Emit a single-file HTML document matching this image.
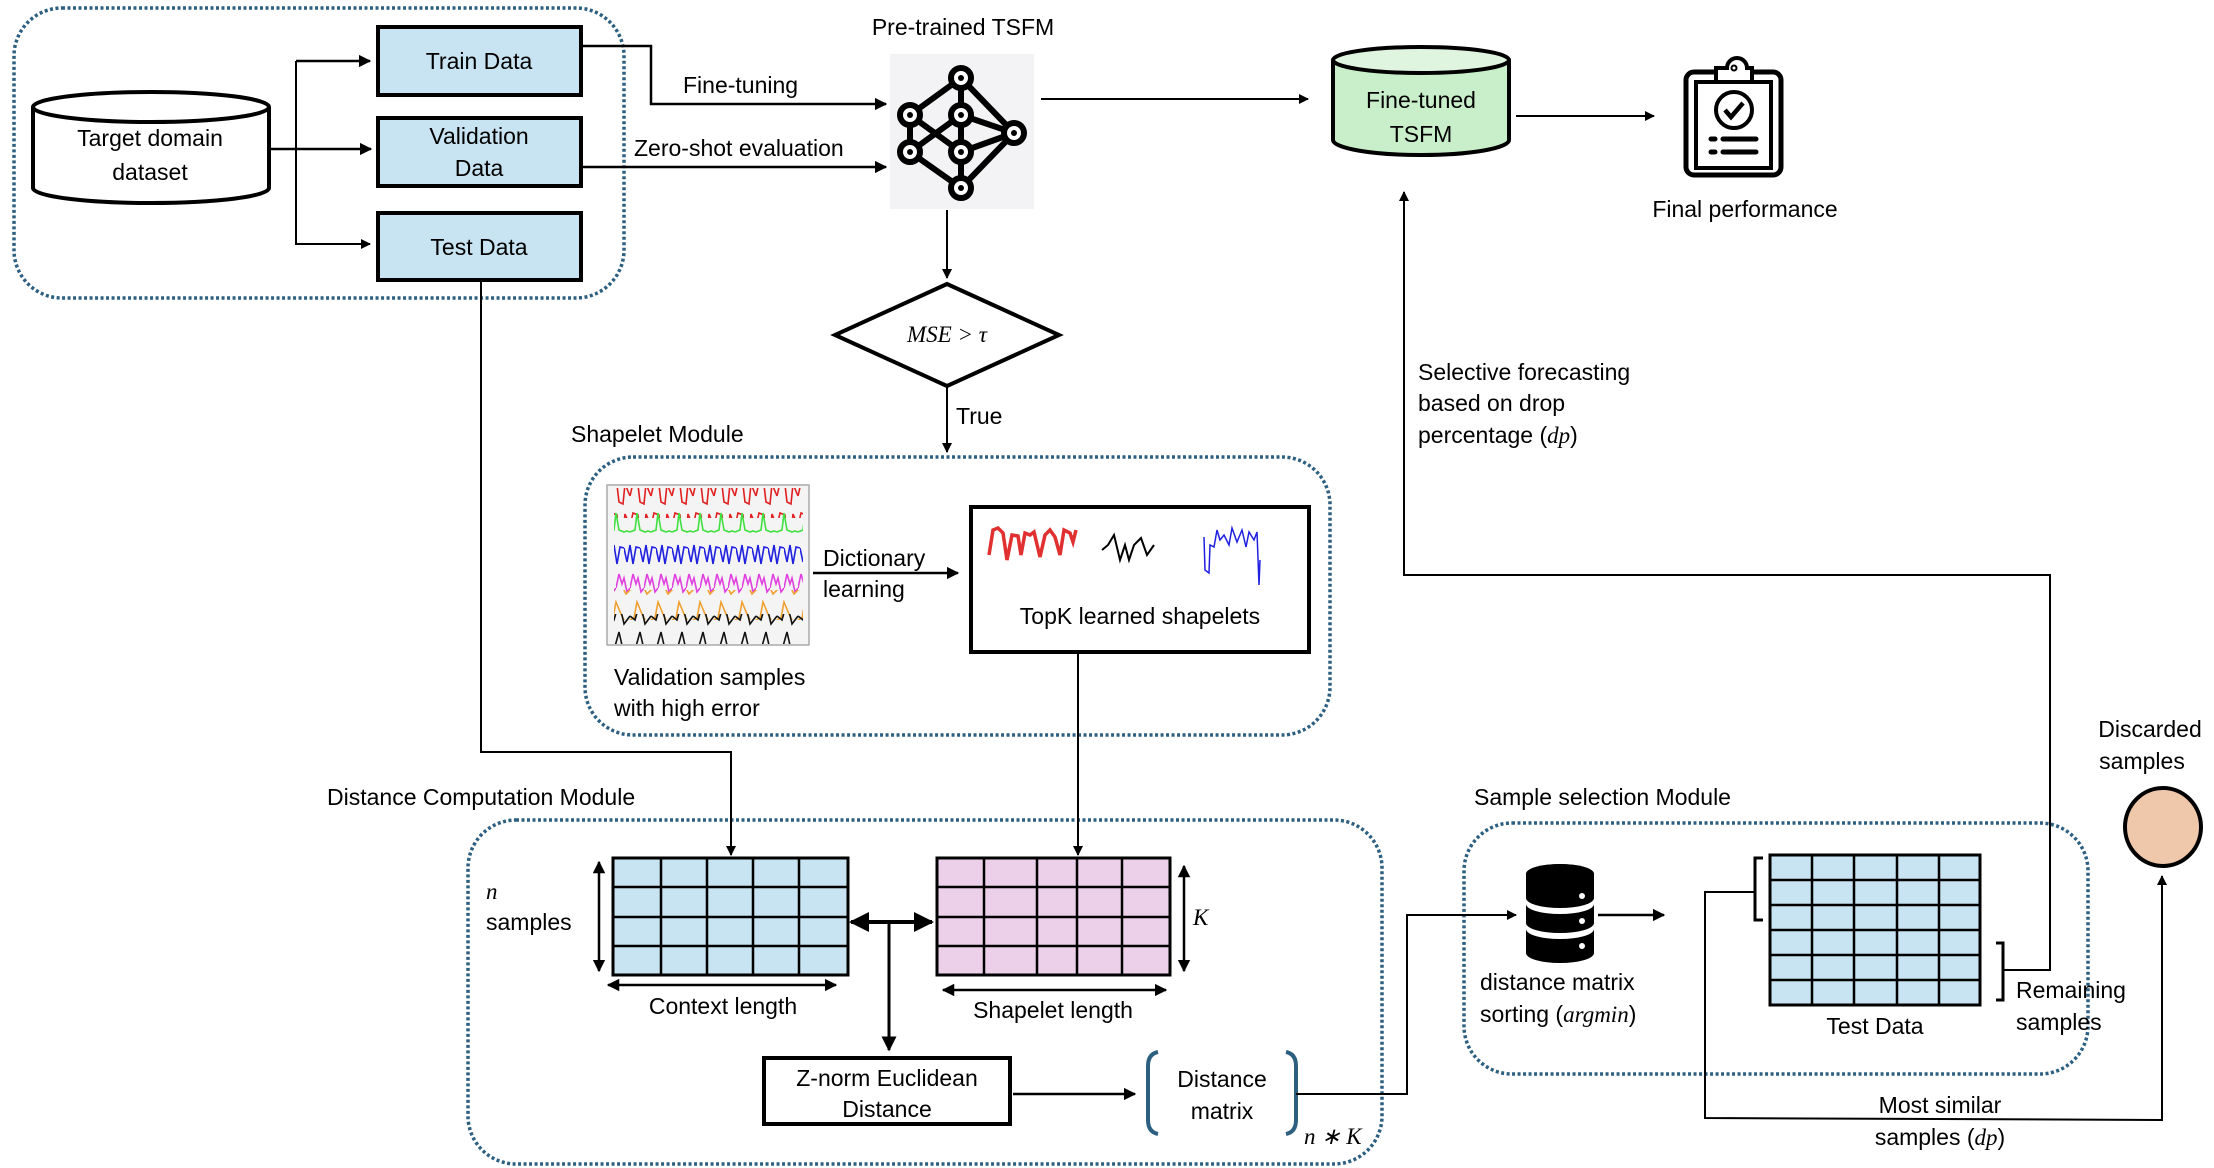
<!DOCTYPE html>
<html><head><meta charset="utf-8"><style>
html,body{margin:0;padding:0;background:#fff;}
svg{display:block;}
text{font-family:"Liberation Sans",sans-serif;font-size:23px;fill:#000;}
.m{font-family:"Liberation Serif",serif;font-style:italic;}
</style></head><body>
<svg width="2214" height="1168" viewBox="0 0 2214 1168" xmlns="http://www.w3.org/2000/svg">
<defs>
<marker id="a" viewBox="0 0 10 10" refX="9" refY="5" markerWidth="5" markerHeight="5" orient="auto-start-reverse"><path d="M0,0L10,5L0,10z" fill="#000"/></marker>
<pattern id="wr" width="21" height="30" patternUnits="userSpaceOnUse"><polyline points="0,16 3,3 8,5 10,22 14,24 16,4 21,16" fill="none" stroke="#e02020" stroke-width="1.6"/></pattern>
<pattern id="wg" width="21" height="30" patternUnits="userSpaceOnUse"><polyline points="0,22 5,20 7,3 10,20 15,22 18,21 21,22" fill="none" stroke="#40e040" stroke-width="1.6"/></pattern>
<pattern id="wb" width="16" height="30" patternUnits="userSpaceOnUse"><polyline points="0,8 3,22 6,5 9,24 12,7 16,8" fill="none" stroke="#2020e0" stroke-width="1.6"/></pattern>
<pattern id="wm" width="14" height="30" patternUnits="userSpaceOnUse"><polyline points="0,18 3,4 6,14 8,8 11,22 14,18" fill="none" stroke="#e040e0" stroke-width="1.6"/></pattern>
<pattern id="wo" width="21" height="30" patternUnits="userSpaceOnUse"><polyline points="0,20 4,18 7,2 12,14 17,24 21,20" fill="none" stroke="#f0a030" stroke-width="1.6"/></pattern>
<pattern id="wk" width="21" height="30" patternUnits="userSpaceOnUse"><polyline points="0,16 5,20 10,2 15,24 21,16" fill="none" stroke="#111" stroke-width="1.6"/></pattern>
</defs>

<g fill="none" stroke="#2c5f80" stroke-width="3.5" stroke-dasharray="3 2.5">
<rect x="14" y="8" width="610" height="290" rx="48"/>
<rect x="585" y="457" width="745" height="278" rx="48"/>
<rect x="468" y="820" width="914" height="344" rx="48"/>
<rect x="1464" y="823" width="624" height="251" rx="48"/>
</g>

<g stroke="#000" stroke-width="4">
<path d="M33,107 V188 A118,15 0 0 0 269,188 V107" fill="#fff"/>
<ellipse cx="151" cy="107" rx="118" ry="15" fill="#fff"/>
</g>
<text x="150" y="146" text-anchor="middle">Target domain</text>
<text x="150" y="180" text-anchor="middle">dataset</text>

<g fill="#c8e3f1" stroke="#000" stroke-width="4">
<rect x="378" y="27" width="203" height="68"/>
<rect x="378" y="118" width="203" height="68"/>
<rect x="378" y="213" width="203" height="67"/>
</g>
<text x="479" y="69" text-anchor="middle">Train Data</text>
<text x="479" y="144" text-anchor="middle">Validation</text>
<text x="479" y="176" text-anchor="middle">Data</text>
<text x="479" y="255" text-anchor="middle">Test Data</text>

<g stroke="#000" stroke-width="2" fill="none">
<polyline points="296,61 370,61" stroke-width="2.5" marker-end="url(#a)"/>
<polyline points="296,61 296,244 370,244" marker-end="url(#a)"/>
<polyline points="269,149 371,149" stroke-width="2.5" marker-end="url(#a)"/>
<polyline points="581,46 651,46 651,104 886,104" stroke-width="2.5" marker-end="url(#a)"/>
<polyline points="581,167 886,167" stroke-width="2.5" marker-end="url(#a)"/>
<polyline points="1041,99 1308,99" marker-end="url(#a)"/>
<polyline points="1516,116 1654,116" marker-end="url(#a)"/>
<polyline points="947,210 947,278" marker-end="url(#a)"/>
<polyline points="947,386 947,452" marker-end="url(#a)"/>
</g>
<text x="683" y="93">Fine-tuning</text>
<text x="634" y="156">Zero-shot evaluation</text>
<text x="963" y="35" text-anchor="middle">Pre-trained TSFM</text>

<rect x="890" y="54" width="144" height="155" fill="#f3f3f5"/>
<g stroke="#000" stroke-width="6" fill="none">
<path d="M961,78 L910,115 L910,152 L961,188 L1014,133 L961,78 M910,115 L961,152 M910,152 L961,115 M961,115 L1014,133 M961,152 L1014,133 M961,78 L961,188"/>
</g>
<g fill="#fff" stroke="#000" stroke-width="6">
<circle cx="961" cy="78" r="10"/><circle cx="910" cy="115" r="10"/><circle cx="961" cy="115" r="10"/>
<circle cx="1014" cy="133" r="10"/><circle cx="910" cy="152" r="10"/><circle cx="961" cy="152" r="10"/><circle cx="961" cy="188" r="10"/>
</g>
<g fill="#000"><circle cx="961" cy="78" r="3"/><circle cx="910" cy="115" r="3"/><circle cx="961" cy="115" r="3"/><circle cx="1014" cy="133" r="3"/><circle cx="910" cy="152" r="3"/><circle cx="961" cy="152" r="3"/><circle cx="961" cy="188" r="3"/></g>

<g stroke="#000" stroke-width="4">
<path d="M1333,60 V140 A88,15 0 0 0 1509,140 V60" fill="#c9efca"/>
<ellipse cx="1421" cy="60" rx="88" ry="13" fill="#e0f5e0"/>
</g>
<text x="1421" y="108" text-anchor="middle">Fine-tuned</text>
<text x="1421" y="142" text-anchor="middle">TSFM</text>

<g stroke="#000" fill="none">
<rect x="1686" y="72" width="95" height="103" rx="8" stroke-width="5"/>
<rect x="1696" y="82" width="75" height="86" stroke-width="4"/>
<path d="M1716,80 V68 H1727 A10,10 0 0 1 1747,68 H1752 V80" stroke-width="4" fill="#fff"/>
<circle cx="1734" cy="68" r="2.5" stroke-width="2"/>
<circle cx="1734" cy="110" r="18" stroke-width="4"/>
<path d="M1725,110 L1731,117 L1743,103" stroke-width="4.5"/>
<path d="M1711,139 H1715 M1723,139 H1756 M1711,152 H1715 M1723,152 H1756" stroke-width="5" stroke-linecap="round"/>
</g>
<text x="1745" y="217" text-anchor="middle">Final performance</text>

<polygon points="947,284 1059,335 947,386 835,335" fill="#fff" stroke="#000" stroke-width="4"/>
<text x="947" y="342" text-anchor="middle" class="m">MSE &gt; τ</text>
<text x="956" y="424">True</text>

<text x="571" y="442">Shapelet Module</text>
<rect x="607" y="485" width="202" height="160" fill="#f4f4f4" stroke="#aaa" stroke-width="1.5"/>
<rect x="614" y="488" width="189" height="30" fill="url(#wr)"/>
<rect x="614" y="512" width="189" height="30" fill="url(#wg)"/>
<rect x="614" y="538" width="189" height="30" fill="url(#wb)"/>
<rect x="614" y="564" width="189" height="30" fill="url(#wm)"/>
<rect x="614" y="590" width="189" height="30" fill="url(#wo)"/>
<rect x="614" y="614" width="189" height="30" fill="url(#wk)"/>
<text x="614" y="685">Validation samples</text>
<text x="614" y="716">with high error</text>
<line x1="813" y1="573" x2="958" y2="573" stroke="#000" stroke-width="2.5" marker-end="url(#a)"/>
<text x="823" y="566">Dictionary</text>
<text x="823" y="597">learning</text>

<rect x="971" y="507" width="338" height="145" fill="#fff" stroke="#000" stroke-width="4"/>
<polyline points="989,555 993,530 998,528 1003,533 1007,560 1012,535 1018,536 1021,555 1025,533 1030,535 1034,532 1040,557 1045,535 1050,530 1055,537 1060,555 1064,530 1070,533 1073,542 1076,530" fill="none" stroke="#e03030" stroke-width="3.5"/>
<polyline points="1102,550 1108,545 1114,535 1120,560 1125,545 1129,560 1134,545 1141,538 1147,555 1154,545" fill="none" stroke="#000" stroke-width="2"/>
<polyline points="1204,537 1205,570 1209,573 1210,545 1214,547 1217,530 1220,540 1224,535 1229,545 1232,528 1237,542 1242,530 1246,547 1249,532 1254,540 1257,532 1259,585 1260,560" fill="none" stroke="#2020e0" stroke-width="1.5"/>
<text x="1140" y="624" text-anchor="middle">TopK  learned shapelets</text>

<g stroke="#000" stroke-width="2" fill="none">
<polyline points="1078,652 1078,855" marker-end="url(#a)"/>
<polyline points="481,281 481,752 731,752 731,855" marker-end="url(#a)"/>
</g>
<text x="327" y="805">Distance Computation Module</text>

<g stroke="#000" stroke-width="3">
<rect x="613" y="858" width="235" height="117" fill="#c8e3f1"/>
<path d="M661,858V975 M707,858V975 M753,858V975 M799,858V975 M613,887H848 M613,917H848 M613,946H848" stroke-width="2.5"/>
</g>
<g stroke="#000" stroke-width="3">
<rect x="937" y="858" width="233" height="117" fill="#ecd0ea"/>
<path d="M984,858V975 M1037,858V975 M1077,858V975 M1122,858V975 M937,887H1170 M937,917H1170 M937,946H1170" stroke-width="2.5"/>
</g>
<g stroke="#000" stroke-width="2.5" fill="none">
<line x1="599" y1="862" x2="599" y2="971" marker-start="url(#a)" marker-end="url(#a)"/>
<line x1="608" y1="985" x2="836" y2="985" marker-start="url(#a)" marker-end="url(#a)"/>
<line x1="1184" y1="866" x2="1184" y2="971" marker-start="url(#a)" marker-end="url(#a)"/>
<line x1="943" y1="990" x2="1166" y2="990" marker-start="url(#a)" marker-end="url(#a)"/>
<line x1="851" y1="922" x2="932" y2="922" stroke-width="4" marker-start="url(#a)" marker-end="url(#a)"/>
<line x1="889" y1="922" x2="889" y2="1050" stroke-width="3" marker-end="url(#a)"/>
<line x1="1013" y1="1094" x2="1135" y2="1094" marker-end="url(#a)"/>
</g>
<text x="486" y="899" class="m">n</text>
<text x="486" y="930">samples</text>
<text x="1193" y="925" class="m">K</text>
<text x="723" y="1014" text-anchor="middle">Context length</text>
<text x="1053" y="1018" text-anchor="middle">Shapelet length</text>

<rect x="764" y="1058" width="246" height="66" fill="#fff" stroke="#000" stroke-width="4"/>
<text x="887" y="1086" text-anchor="middle">Z-norm Euclidean</text>
<text x="887" y="1117" text-anchor="middle">Distance</text>

<g stroke="#2c5f80" stroke-width="4" fill="none">
<path d="M1158,1052 Q1148,1054 1148,1066 V1120 Q1148,1132 1158,1134"/>
<path d="M1286,1052 Q1296,1054 1296,1066 V1120 Q1296,1132 1286,1134"/>
</g>
<text x="1222" y="1087" text-anchor="middle">Distance</text>
<text x="1222" y="1119" text-anchor="middle">matrix</text>
<text x="1304" y="1144" class="m">n ∗ K</text>

<polyline points="1296,1094 1407,1094 1407,915 1516,915" fill="none" stroke="#000" stroke-width="2" marker-end="url(#a)"/>

<text x="1474" y="805">Sample selection Module</text>
<g fill="#000">
<path d="M1526,874 A34,10 0 0 1 1594,874 V898 A34,10 0 0 1 1526,898Z"/>
<path d="M1526,904 A34,10 0 0 0 1594,904 V923 A34,10 0 0 1 1526,923Z"/>
<path d="M1526,929 A34,10 0 0 0 1594,929 V953 A34,10 0 0 1 1526,953Z"/>
</g>
<ellipse cx="1560" cy="874" rx="34" ry="10" fill="#000"/>
<g fill="#fff"><circle cx="1582" cy="896" r="3"/><circle cx="1582" cy="921" r="3"/><circle cx="1582" cy="946" r="3"/></g>
<line x1="1598" y1="915" x2="1664" y2="915" stroke="#000" stroke-width="2.5" marker-end="url(#a)"/>
<text x="1480" y="990">distance matrix</text>
<text x="1480" y="1022">sorting (<tspan class="m">argmin</tspan>)</text>

<g stroke="#000" stroke-width="3">
<rect x="1770" y="855" width="210" height="150" fill="#c8e3f1"/>
<path d="M1812,855V1005 M1854,855V1005 M1897,855V1005 M1939,855V1005 M1770,880H1980 M1770,905H1980 M1770,930H1980 M1770,955H1980 M1770,980H1980" stroke-width="2.5"/>
</g>
<text x="1875" y="1034" text-anchor="middle">Test Data</text>
<g stroke="#000" stroke-width="3" fill="none">
<path d="M1763,858 H1755 V920 H1763"/>
<path d="M1996,943 H2003 V1000 H1996"/>
</g>
<text x="2016" y="998">Remaining</text>
<text x="2016" y="1030">samples</text>

<g stroke="#000" stroke-width="2" fill="none">
<polyline points="2003,970 2050,970 2050,575 1404,575 1404,192" marker-end="url(#a)"/>
<polyline points="1755,892 1705,892 1705,1118 2162,1120 2162,876" marker-end="url(#a)"/>
</g>
<text x="1418" y="380">Selective forecasting</text>
<text x="1418" y="411">based on drop</text>
<text x="1418" y="443">percentage (<tspan class="m">dp</tspan>)</text>
<text x="1940" y="1113" text-anchor="middle">Most similar</text>
<text x="1940" y="1145" text-anchor="middle">samples (<tspan class="m">dp</tspan>)</text>

<ellipse cx="2163" cy="827" rx="38" ry="39" fill="#efc8ac" stroke="#000" stroke-width="4"/>
<text x="2150" y="737" text-anchor="middle">Discarded</text>
<text x="2142" y="769" text-anchor="middle">samples</text>
</svg>
</body></html>
